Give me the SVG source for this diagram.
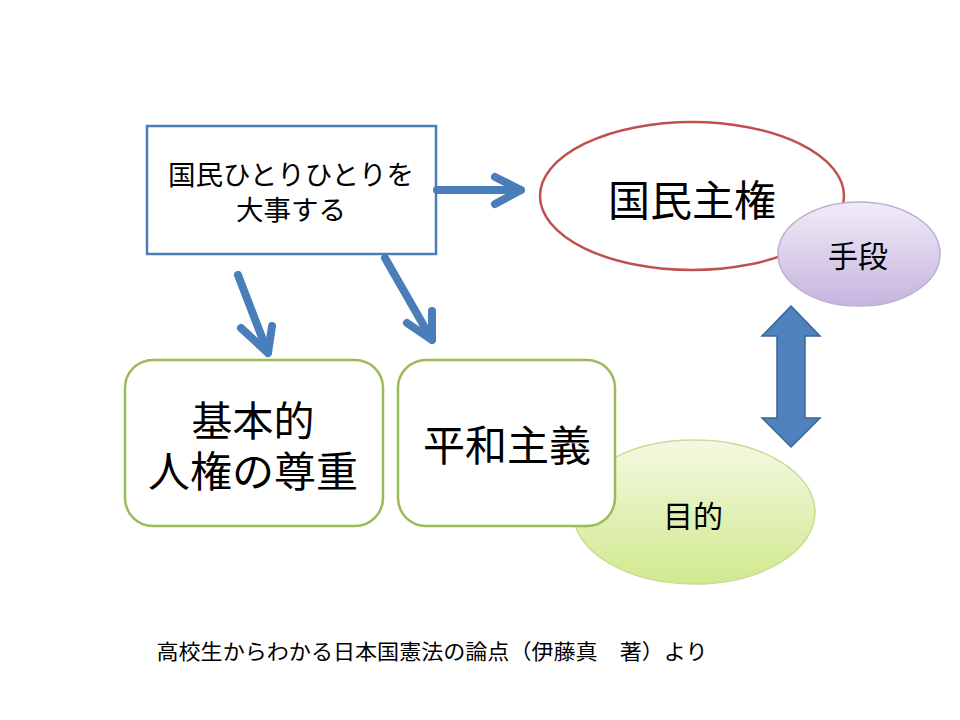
<svg xmlns="http://www.w3.org/2000/svg" width="960" height="720" viewBox="0 0 960 720">
<defs>
<linearGradient id="gPurple" x1="0" y1="0" x2="0" y2="1"><stop offset="0" stop-color="#F1ECF8"/><stop offset="1" stop-color="#C6B4DE"/></linearGradient>
<linearGradient id="gGreen" x1="0" y1="0" x2="0" y2="1"><stop offset="0" stop-color="#F4F9E2"/><stop offset="1" stop-color="#D1E98E"/></linearGradient>
<style>
text{font-family:"Liberation Sans","Noto Sans CJK JP",sans-serif;fill:#000;text-anchor:middle}
.arr{fill:none;stroke:#4A7EBB;stroke-width:8;stroke-linecap:round;stroke-linejoin:round}
.rbox{fill:#fff;stroke:#9BBB59;stroke-width:2.5}
</style>
</defs>
<rect width="960" height="720" fill="#fff"/>
<g id="mokuteki">
<ellipse cx="694" cy="512" rx="121" ry="72" fill="url(#gGreen)" stroke="#C9DD98" stroke-width="1.5"/>
<text x="693" y="527" font-size="30">目的</text>
</g>
<g id="top">
<rect x="147" y="126" width="289" height="128" fill="#fff" stroke="#4A7EBB" stroke-width="2.5"/>
<text x="291" y="185" font-size="27.5">国民ひとりひとりを</text>
<text x="291" y="220" font-size="27.5">大事する</text>
</g>
<g id="kokumin">
<ellipse cx="692" cy="196" rx="152" ry="74" fill="#fff" stroke="#C0504D" stroke-width="2.5"/>
<text x="692" y="216" font-size="42">国民主権</text>
</g>
<g id="shudan">
<ellipse cx="859" cy="254" rx="81" ry="52" fill="url(#gPurple)" stroke="#BCAED4" stroke-width="1.5"/>
<text x="858" y="267" font-size="30">手段</text>
</g>
<g id="kihon">
<rect class="rbox" x="125" y="360" width="258" height="166" rx="28"/>
<text x="253" y="436" font-size="41">基本的</text>
<text x="253" y="487" font-size="42">人権の尊重</text>
</g>
<g id="heiwa">
<rect class="rbox" x="398" y="360" width="217" height="166" rx="28"/>
<text x="507" y="461" font-size="42">平和主義</text>
</g>
<g id="connectors">
<path class="arr" d="M437 190 L521 190 M495 177 L521 190 L495 204"/>
<path class="arr" d="M238 275 L268 353 M241 328 L268 353 L272 326"/>
<path class="arr" d="M385 258 L432 340 M407 323 L432 340 L432 311"/>
<polygon points="791,306 820,336 805,336 805,418 820,418 791,447 762,418 777,418 777,336 762,336" fill="#4F81BD" stroke="#3A6496" stroke-width="1.5"/>
</g>
<text x="432" y="659" font-size="21" textLength="551" lengthAdjust="spacingAndGlyphs">高校生からわかる日本国憲法の論点（伊藤真　著）より</text>
</svg>
